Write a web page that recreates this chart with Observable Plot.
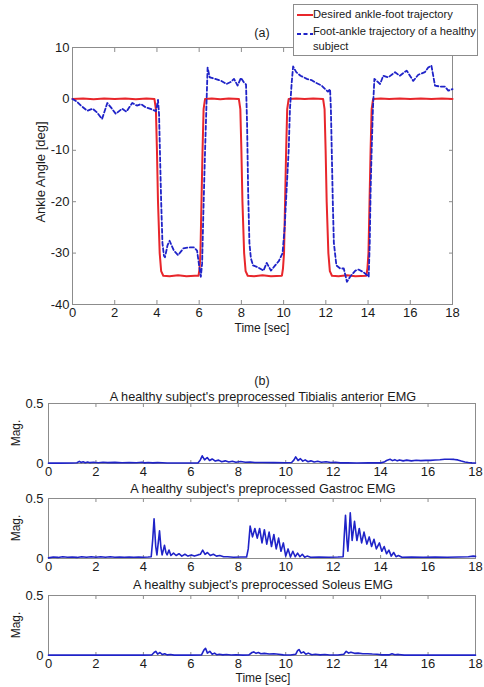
<!DOCTYPE html>
<html><head><meta charset="utf-8">
<script src="https://cdn.jsdelivr.net/npm/d3@7"></script>
<script src="https://cdn.jsdelivr.net/npm/@observablehq/plot@0.6"></script>
<style>
body{margin:0;background:#fff;}
#root{position:relative;width:484px;height:687px;overflow:hidden;font-family:"Liberation Sans",Arial,sans-serif;color:#1a1a1a;}
.t{position:absolute;white-space:nowrap;transform:translate(-50%,-50%);line-height:1;}
.plot{position:absolute;left:0;}
</style></head><body><div id="root"></div>
<script>
// ---------- data ----------
const xTicks = [0,2,4,6,8,10,12,14,16,18];
const angleTicks = [-40,-30,-20,-10,0,10];
const emgTicks = [0,0.5];

const desiredT = [0,0.5,1,1.5,2,2.5,3,3.5,3.88,3.95,4.0,4.05,4.13,4.2,4.3,4.6,5.0,5.4,5.8,5.97,6.02,6.06,6.11,6.16,6.21,6.28,6.6,7.0,7.4,7.88,7.95,8.0,8.05,8.13,8.2,8.3,8.6,9.0,9.4,9.92,9.97,10.02,10.07,10.12,10.17,10.24,10.6,11.0,11.4,11.87,11.94,11.99,12.04,12.12,12.19,12.29,12.6,13.0,13.4,13.92,13.97,14.02,14.07,14.12,14.17,14.24,14.6,15.0,15.5,16.0,16.5,17.0,17.5,18.0];
const desiredA = [0,0.1,-0.05,0.1,0,0.1,-0.05,0.1,0,-2,-10,-20,-30,-33.5,-34.4,-34.5,-34.3,-34.5,-34.4,-34.4,-33,-30,-20,-10,-2,0,0.1,-0.05,0.1,0,-2,-10,-20,-30,-33.5,-34.4,-34.5,-34.3,-34.5,-34.4,-33,-30,-20,-10,-2,0,0.1,0,0.1,0,-2,-10,-20,-30,-33.5,-34.4,-34.5,-34.3,-34.5,-34.4,-33,-30,-20,-10,-2,0,0.1,0,0.1,0,0.1,0,0.1,0];

const healthyT = [0,0.2,0.4,0.7,0.95,1.15,1.4,1.65,1.85,2.05,2.35,2.55,2.83,3.05,3.25,3.45,3.8,3.95,4.05,4.1,4.14,4.2,4.26,4.33,4.38,4.5,4.6,4.8,5.0,5.25,5.5,5.75,5.9,6.0,6.08,6.14,6.2,6.28,6.34,6.4,6.5,6.75,7.05,7.3,7.5,7.65,7.82,7.98,8.12,8.22,8.27,8.32,8.38,8.45,8.55,8.75,9.05,9.2,9.4,9.6,9.78,9.95,10.05,10.15,10.24,10.3,10.38,10.45,10.6,10.8,11.1,11.35,11.5,11.8,11.97,12.1,12.2,12.24,12.28,12.33,12.38,12.5,12.68,12.85,13.0,13.15,13.4,13.55,13.78,13.95,14.03,14.08,14.12,14.17,14.23,14.3,14.57,14.72,14.96,15.28,15.5,15.83,16.14,16.38,16.69,16.85,17.0,17.17,17.4,17.64,17.8,18];
const healthyA = [0,-0.5,-1.3,-2.3,-1.9,-2.6,-3.9,-0.8,-1.8,-2.9,-1.9,-2.5,-0.8,-1.3,-1.0,-1.6,-2.1,-2.4,-0.2,-3,-10,-20,-28,-30.5,-30.8,-28.5,-27.6,-29.5,-30.4,-29.1,-28.9,-28.9,-29.5,-32.5,-34.6,-32,-22,-10,-2,6.1,4.2,3.9,3.5,2.9,3.3,3.9,2.6,4.1,3.2,2.8,-5,-18,-28,-31,-32.4,-32.7,-33.4,-31.9,-33.4,-32.4,-31.5,-30,-25,-17,-10,-2,3,6.3,5.2,4.5,3.9,3.6,3.2,2.6,1.9,1.4,1.9,-2,-10,-20,-28,-32.4,-33,-33,-35.6,-34.6,-33.4,-33.2,-33.7,-34.3,-34.6,-28,-18,-10,-2,3.9,2.9,4.5,4.2,5.2,4.5,5.5,3.5,4.7,5.2,6.1,6.5,2.6,2.4,2.4,1.6,1.9];

const tibT = [0,0.5,1.0,1.2,1.3,1.38,1.46,1.55,1.65,1.75,1.9,2.1,2.3,2.5,2.8,3.1,3.4,3.7,3.95,4.05,4.2,4.4,4.6,4.8,5.0,5.5,6.0,6.3,6.4,6.48,6.58,6.69,6.79,6.9,7.03,7.17,7.3,7.45,7.6,7.75,7.9,8.1,8.3,8.5,8.7,9.0,9.5,10.0,10.25,10.35,10.42,10.52,10.62,10.72,10.82,10.94,11.06,11.2,11.35,11.5,11.7,11.9,12.1,12.3,12.6,13.0,13.5,14.0,14.15,14.25,14.4,14.5,14.6,14.7,14.8,14.95,15.1,15.3,15.5,15.7,15.9,16.1,16.3,16.5,16.7,16.9,17.1,17.25,17.4,17.55,17.7,17.85,18];
const tibV = [0.003,0.003,0.004,0.006,0.018,0.008,0.014,0.006,0.012,0.007,0.011,0.006,0.01,0.007,0.009,0.006,0.008,0.006,0.01,0.005,0.008,0.005,0.007,0.006,0.004,0.004,0.004,0.005,0.03,0.064,0.03,0.05,0.025,0.038,0.02,0.028,0.015,0.022,0.012,0.018,0.01,0.016,0.01,0.013,0.008,0.008,0.007,0.006,0.008,0.03,0.055,0.025,0.04,0.02,0.03,0.015,0.022,0.012,0.018,0.01,0.014,0.008,0.01,0.005,0.005,0.004,0.005,0.005,0.012,0.025,0.035,0.024,0.032,0.022,0.03,0.022,0.028,0.022,0.027,0.024,0.026,0.026,0.029,0.031,0.035,0.036,0.034,0.03,0.02,0.012,0.008,0.005,0.004];

const gasT = [0,0.2,0.4,0.6,0.8,1.0,1.2,1.4,1.6,1.8,2.0,2.2,2.4,2.6,2.8,3.0,3.2,3.4,3.6,3.8,4.0,4.2,4.33,4.39,4.45,4.52,4.57,4.62,4.68,4.74,4.79,4.84,4.89,4.95,5.0,5.08,5.16,5.27,5.38,5.5,5.62,5.75,5.88,6.02,6.15,6.3,6.4,6.5,6.6,6.7,6.82,6.95,7.08,7.22,7.38,7.55,7.8,8.1,8.35,8.42,8.5,8.6,8.7,8.8,8.9,9.0,9.1,9.2,9.3,9.4,9.5,9.6,9.7,9.8,9.9,10.0,10.1,10.2,10.3,10.4,10.5,10.6,10.7,10.8,10.9,11.05,11.4,11.8,12.2,12.42,12.47,12.52,12.58,12.62,12.67,12.72,12.8,12.9,13.0,13.1,13.2,13.3,13.42,13.52,13.62,13.72,13.82,13.95,14.05,14.15,14.25,14.35,14.45,14.55,14.65,14.75,14.9,15.3,15.8,16.3,16.8,17.3,17.7,17.9,18];
const gasV = [0.005,0.012,0.009,0.014,0.01,0.013,0.009,0.014,0.01,0.015,0.011,0.015,0.011,0.014,0.01,0.013,0.01,0.012,0.01,0.012,0.01,0.012,0.015,0.15,0.33,0.1,0.03,0.12,0.23,0.09,0.03,0.07,0.11,0.05,0.03,0.07,0.025,0.045,0.025,0.04,0.02,0.035,0.02,0.03,0.02,0.03,0.035,0.07,0.035,0.05,0.025,0.035,0.02,0.025,0.015,0.015,0.01,0.012,0.012,0.08,0.27,0.18,0.25,0.17,0.25,0.13,0.24,0.12,0.22,0.1,0.2,0.08,0.17,0.06,0.13,0.02,0.08,0.012,0.06,0.015,0.045,0.015,0.035,0.01,0.02,0.01,0.012,0.01,0.012,0.015,0.2,0.36,0.15,0.06,0.2,0.38,0.15,0.31,0.15,0.25,0.13,0.22,0.12,0.18,0.1,0.16,0.08,0.13,0.06,0.1,0.04,0.07,0.02,0.05,0.015,0.025,0.01,0.012,0.01,0.012,0.01,0.012,0.014,0.02,0.018];

const solT = [0,1,2,3,4,4.35,4.45,4.52,4.6,4.7,4.8,4.9,5.0,5.15,5.3,6.0,6.45,6.55,6.62,6.7,6.8,6.9,7.0,7.1,7.2,7.35,7.5,7.7,7.9,8.2,8.45,8.58,8.65,8.75,8.85,8.95,9.1,9.3,9.5,9.7,9.9,10.2,10.42,10.5,10.56,10.65,10.75,10.85,10.95,11.1,11.25,11.45,11.65,11.85,12.2,12.45,12.55,12.65,12.75,12.9,13.05,13.25,13.45,13.65,13.85,14.05,14.35,14.48,14.6,14.75,15.0,16,17,18];
const solV = [0.003,0.003,0.003,0.003,0.003,0.004,0.025,0.035,0.012,0.025,0.008,0.015,0.005,0.008,0.003,0.003,0.005,0.045,0.06,0.02,0.035,0.01,0.02,0.006,0.01,0.005,0.008,0.004,0.006,0.003,0.005,0.025,0.03,0.018,0.025,0.015,0.018,0.012,0.014,0.01,0.005,0.004,0.01,0.04,0.05,0.02,0.03,0.01,0.02,0.006,0.01,0.005,0.008,0.004,0.004,0.01,0.035,0.02,0.028,0.018,0.02,0.014,0.015,0.012,0.01,0.005,0.005,0.015,0.006,0.009,0.003,0.003,0.003,0.003];

// ---------- helpers ----------
const zip = (xs, ys) => xs.map((x, i) => ({x, y: ys[i]}));
const FONT = '"Liberation Sans", Arial, sans-serif';
const FRAME = "#8c8c8c";
const RED = "#e8262b";
const BLUE = "#1f23c8";
const root = document.getElementById("root");

function addText(txt, x, y, size, extra = "") {
  const d = document.createElement("div");
  d.className = "t";
  d.textContent = txt;
  d.style.left = x + "px";
  d.style.top = y + "px";
  d.style.fontSize = size + "px";
  if (extra) d.style.cssText += extra;
  root.appendChild(d);
  return d;
}
function place(svg, top) {
  svg.classList.add("plot");
  svg.style.top = top + "px";
  root.appendChild(svg);
}
function boxAxes(xt, yt, yfmt, tick, yOff) {
  return [
    Plot.frame({stroke: FRAME}),
    Plot.axisX({ticks: xt, tickSize: -tick, tickPadding: 3 + tick, tickFormat: d => String(d), label: null, stroke: FRAME, fill: "#1a1a1a"}),
    Plot.axisX({anchor: "top", ticks: xt, tickSize: -tick, tickFormat: () => "", label: null, stroke: FRAME}),
    Plot.axisY({ticks: yt, tickSize: -tick, tickPadding: yOff + tick, tickFormat: yfmt, label: null, stroke: FRAME, fill: "#1a1a1a"}),
    Plot.axisY({anchor: "right", ticks: yt, tickSize: -tick, tickFormat: () => "", label: null, stroke: FRAME})
  ];
}

// ---------- panel (a) ----------
const topPlot = Plot.plot({
  width: 484, height: 340,
  marginLeft: 72, marginRight: 32, marginTop: 47, marginBottom: 36,
  x: {domain: [0, 18]},
  y: {domain: [-40, 10]},
  style: {fontFamily: FONT, fontSize: "13px", background: "transparent", overflow: "visible"},
  marks: [
    ...boxAxes(xTicks, angleTicks, d => String(d), 4, 3),
    Plot.line(zip(desiredT, desiredA), {x: "x", y: "y", stroke: RED, strokeWidth: 2}),
    Plot.line(zip(healthyT, healthyA), {x: "x", y: "y", stroke: BLUE, strokeWidth: 1.8, strokeDasharray: "4,2.5"})
  ]
});
place(topPlot, 0);

addText("(a)", 262, 33, 12.5);
addText("Time [sec]", 262, 328, 12);
addText("Ankle Angle [deg]", 40, 172, 13, "transform:translate(-50%,-50%) rotate(-90deg);");

// legend
const leg = document.createElement("div");
leg.style.cssText = "position:absolute;left:293px;top:4px;width:183px;height:50px;border:1px solid #8c8c8c;background:#fff;font-size:11.2px;line-height:1;";
leg.innerHTML =
  '<svg width="20" height="50" style="position:absolute;left:2px;top:0">' +
  '<line x1="1" x2="17" y1="10" y2="10" stroke="' + RED + '" stroke-width="2"/>' +
  '<line x1="1" x2="17" y1="29" y2="29" stroke="' + BLUE + '" stroke-width="1.8" stroke-dasharray="4,2.5"/></svg>' +
  '<div style="position:absolute;left:19px;top:4px;white-space:nowrap">Desired ankle-foot trajectory</div>' +
  '<div style="position:absolute;left:19px;top:21px;white-space:nowrap">Foot-ankle trajectory of a healthy</div>' +
  '<div style="position:absolute;left:19px;top:36px;white-space:nowrap">subject</div>';
root.appendChild(leg);

// ---------- panel (b) ----------
function emgPanel(ts, vs, boxTop) {
  const mt = 6, mb = 24, h = 60;
  const svg = Plot.plot({
    width: 484, height: h + mt + mb,
    marginLeft: 48, marginRight: 9, marginTop: mt, marginBottom: mb,
    x: {domain: [0, 18]},
    y: {domain: [0, 0.5]},
    style: {fontFamily: FONT, fontSize: "13px", background: "transparent", overflow: "visible"},
    marks: [
      ...boxAxes(xTicks, emgTicks, d => (d === 0 ? "0" : "0.5"), 3, 5),
      Plot.line(zip(ts, vs), {x: "x", y: "y", stroke: BLUE, strokeWidth: 1.6})
    ]
  });
  place(svg, boxTop - mt);
}
addText("(b)", 262, 381, 12.5);
addText("A healthy subject's preprocessed Tibialis anterior EMG", 263, 397, 12.7);
emgPanel(tibT, tibV, 403);
addText("A healthy subject's preprocessed Gastroc EMG", 263, 489, 12.7);
emgPanel(gasT, gasV, 498);
addText("A healthy subject's preprocessed Soleus EMG", 263, 585, 12.7);
emgPanel(solT, solV, 595);
addText("Time [sec]", 263, 678, 12);
addText("Mag.", 16, 433, 12, "transform:translate(-50%,-50%) rotate(-90deg);");
addText("Mag.", 16, 528, 12, "transform:translate(-50%,-50%) rotate(-90deg);");
addText("Mag.", 16, 625, 12, "transform:translate(-50%,-50%) rotate(-90deg);");
</script></body></html>
